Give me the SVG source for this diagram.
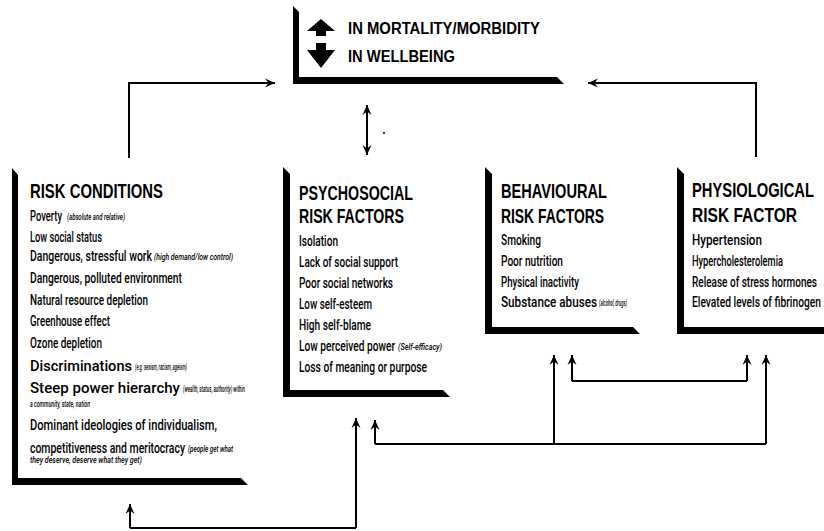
<svg xmlns="http://www.w3.org/2000/svg" width="824" height="531" viewBox="0 0 824 531">
<defs>
<marker id="ah" markerWidth="12" markerHeight="10" refX="10" refY="5" orient="auto-start-reverse" markerUnits="userSpaceOnUse">
<path d="M10,5 L0,0.5 L3.5,5 L0,9.5 Z" fill="#000"/>
</marker>
</defs>
<style>
.bar{fill:#000}
.t{font-family:"Liberation Sans",Arial,sans-serif;font-size:20px;font-weight:bold;fill:#000}
.h{font-family:"Liberation Sans",Arial,sans-serif;font-size:16px;font-weight:bold;fill:#000}
.i{font-family:Roboto,"Liberation Sans",Arial,sans-serif;font-size:14px;font-weight:500;fill:#000}
.s{font-family:Roboto,"Liberation Sans",Arial,sans-serif;font-size:8.5px;font-style:italic;font-weight:500;fill:#000}
.c{fill:none;stroke:#000;stroke-width:2}
</style>
<rect width="824" height="531" fill="#fff"/>

<g id="outcome">
<path class="bar" d="M293,6 L299,12 L299,77 L557,77 L564,84 L293,84 Z"/>
<path class="bar" d="M321,19 L335,31 L326,31 L326,36 L316,36 L316,31 L307,31 Z"/>
<path class="bar" d="M316,43 L326,43 L326,50 L335,50 L321,68 L307,50 L316,50 Z"/>
<text class="h" x="348" y="34" textLength="192" lengthAdjust="spacingAndGlyphs">IN MORTALITY/MORBIDITY</text>
<text class="h" x="348" y="62" textLength="107" lengthAdjust="spacingAndGlyphs">IN WELLBEING</text>
</g>

<g id="risk-conditions">
<path class="bar" d="M12,168 L18,175 L18,478 L241,478 L248,485 L12,485 Z"/>
<text class="t" x="30" y="198" textLength="133" lengthAdjust="spacingAndGlyphs">RISK CONDITIONS</text>
<text class="i" x="30" y="221" textLength="32" lengthAdjust="spacingAndGlyphs">Poverty</text>
<text class="s" x="67" y="220" textLength="58" lengthAdjust="spacingAndGlyphs">(absolute and relative)</text>
<text class="i" x="30" y="241.5" textLength="72" lengthAdjust="spacingAndGlyphs">Low social status</text>
<text class="i" x="30" y="261" textLength="122" lengthAdjust="spacingAndGlyphs">Dangerous, stressful work</text>
<text class="s" x="154" y="260" textLength="79" lengthAdjust="spacingAndGlyphs">(high demand/low control)</text>
<text class="i" x="30" y="283" textLength="152" lengthAdjust="spacingAndGlyphs">Dangerous, polluted environment</text>
<text class="i" x="30" y="305" textLength="118" lengthAdjust="spacingAndGlyphs">Natural resource depletion</text>
<text class="i" x="30" y="326" textLength="80" lengthAdjust="spacingAndGlyphs">Greenhouse effect</text>
<text class="i" x="30" y="347.5" textLength="72" lengthAdjust="spacingAndGlyphs">Ozone depletion</text>
<text class="i" x="30" y="370.5" textLength="102" lengthAdjust="spacingAndGlyphs">Discriminations</text>
<text class="s" x="135" y="369.5" textLength="52" lengthAdjust="spacingAndGlyphs">(e.g. sexism, racism, ageism)</text>
<text class="i" x="30" y="392.5" textLength="150" lengthAdjust="spacingAndGlyphs">Steep power hierarchy</text>
<text class="s" x="183" y="391.5" textLength="62" lengthAdjust="spacingAndGlyphs">(wealth, status, authority) within</text>
<text class="s" x="30" y="407" textLength="60" lengthAdjust="spacingAndGlyphs">a community, state, nation</text>
<text class="i" x="30" y="430" textLength="187" lengthAdjust="spacingAndGlyphs">Dominant ideologies of individualism,</text>
<text class="i" x="30" y="452.5" textLength="155" lengthAdjust="spacingAndGlyphs">competitiveness and meritocracy</text>
<text class="s" x="188" y="451.5" textLength="45" lengthAdjust="spacingAndGlyphs">(people get what</text>
<text class="s" x="30" y="462.5" textLength="112" lengthAdjust="spacingAndGlyphs">they deserve, deserve what they get)</text>
</g>

<g id="psychosocial">
<path class="bar" d="M283,167 L290,174 L290,390 L443,390 L450,397 L283,397 Z"/>
<text class="t" x="299" y="200" textLength="114" lengthAdjust="spacingAndGlyphs">PSYCHOSOCIAL</text>
<text class="t" x="299" y="223" textLength="105" lengthAdjust="spacingAndGlyphs">RISK FACTORS</text>
<text class="i" x="299" y="245.5" textLength="39" lengthAdjust="spacingAndGlyphs">Isolation</text>
<text class="i" x="299" y="266.5" textLength="99" lengthAdjust="spacingAndGlyphs">Lack of social support</text>
<text class="i" x="299" y="287.5" textLength="94" lengthAdjust="spacingAndGlyphs">Poor social networks</text>
<text class="i" x="299" y="308.5" textLength="73" lengthAdjust="spacingAndGlyphs">Low self-esteem</text>
<text class="i" x="299" y="329.5" textLength="72" lengthAdjust="spacingAndGlyphs">High self-blame</text>
<text class="i" x="299" y="350.5" textLength="96" lengthAdjust="spacingAndGlyphs">Low perceived power</text>
<text class="s" x="398" y="349.5" textLength="44" lengthAdjust="spacingAndGlyphs">(Self-efficacy)</text>
<text class="i" x="299" y="371.5" textLength="128" lengthAdjust="spacingAndGlyphs">Loss of meaning or purpose</text>
</g>

<g id="behavioural">
<path class="bar" d="M485,167 L492,174 L492,327 L633,327 L640,334 L485,334 Z"/>
<text class="t" x="501" y="198" textLength="106" lengthAdjust="spacingAndGlyphs">BEHAVIOURAL</text>
<text class="t" x="501" y="223" textLength="103" lengthAdjust="spacingAndGlyphs">RISK FACTORS</text>
<text class="i" x="501" y="245" textLength="40" lengthAdjust="spacingAndGlyphs">Smoking</text>
<text class="i" x="501" y="265.5" textLength="62" lengthAdjust="spacingAndGlyphs">Poor nutrition</text>
<text class="i" x="501" y="286.5" textLength="78" lengthAdjust="spacingAndGlyphs">Physical inactivity</text>
<text class="i" x="501" y="307" textLength="96" lengthAdjust="spacingAndGlyphs">Substance abuses</text>
<text class="s" x="599" y="306" textLength="28" lengthAdjust="spacingAndGlyphs">(alcohol, drugs)</text>
</g>

<g id="physiological">
<path class="bar" d="M677,167 L684,174 L684,327 L824,327 L824,334 L677,334 Z"/>
<text class="t" x="692" y="197" textLength="122" lengthAdjust="spacingAndGlyphs">PHYSIOLOGICAL</text>
<text class="t" x="692" y="222" textLength="105" lengthAdjust="spacingAndGlyphs">RISK FACTOR</text>
<text class="i" x="692" y="245" textLength="70" lengthAdjust="spacingAndGlyphs">Hypertension</text>
<text class="i" x="692" y="265.5" textLength="91" lengthAdjust="spacingAndGlyphs">Hypercholesterolemia</text>
<text class="i" x="692" y="286.5" textLength="125" lengthAdjust="spacingAndGlyphs">Release of stress hormones</text>
<text class="i" x="692" y="307" textLength="129" lengthAdjust="spacingAndGlyphs">Elevated levels of fibrinogen</text>
</g>

<g id="connectors">
<path class="c" d="M129,158 V83 H275" marker-end="url(#ah)"/>
<path class="c" d="M367,105 V155" marker-start="url(#ah)" marker-end="url(#ah)"/>
<path class="c" d="M756,157 V83 H588" marker-end="url(#ah)"/>
<path class="c" d="M375,444 H766"/>
<path class="c" d="M375,444 V420" marker-end="url(#ah)"/>
<path class="c" d="M554,444 V355" marker-end="url(#ah)"/>
<path class="c" d="M766,444 V355" marker-end="url(#ah)"/>
<path class="c" d="M572,381 H747"/>
<path class="c" d="M572,381 V355" marker-end="url(#ah)"/>
<path class="c" d="M747,381 V355" marker-end="url(#ah)"/>
<path class="c" d="M130,528 H356"/>
<path class="c" d="M130,528 V504" marker-end="url(#ah)"/>
<path class="c" d="M356,528 V418" marker-end="url(#ah)"/>
<circle cx="384" cy="133" r="1" fill="#000"/>
</g>
</svg>
